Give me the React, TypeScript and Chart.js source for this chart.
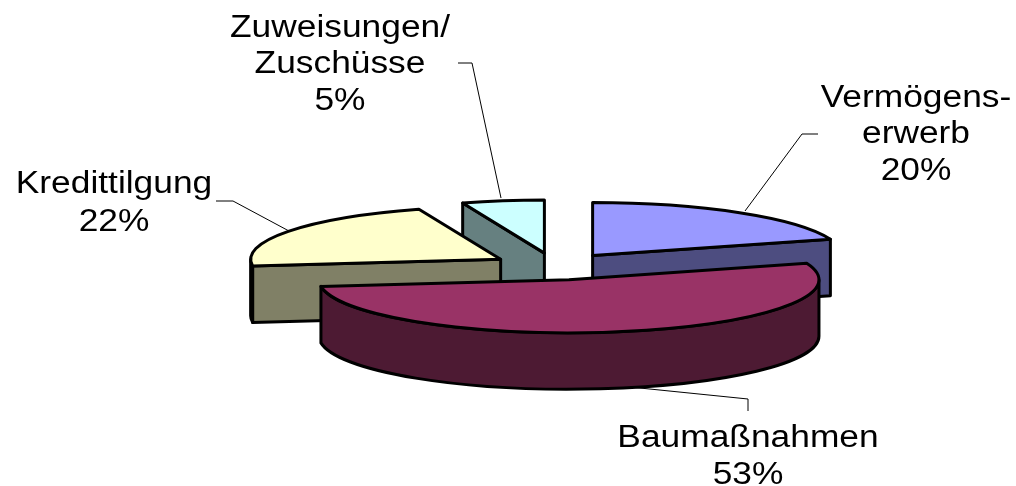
import React, { useEffect, useRef } from "react";
import { Chart, registerables } from "chart.js";

Chart.register(...registerables);

const categories = ["Vermögenserwerb", "Baumaßnahmen", "Kredittilgung", "Zuweisungen/Zuschüsse"];
const shares = [20, 53, 21.7, 5.3];
const topColors = ["#9999FF", "#993366", "#FFFFCC", "#CCFFFF"];
const wallColors = ["#4D4D80", "#4D1A33", "#808066", "#668080"];
const labelLines = [
  ["Vermögens-", "erwerb", "20%"],
  ["Baumaßnahmen", "53%"],
  ["Kredittilgung", "22%"],
  ["Zuweisungen/", "Zuschüsse", "5%"],
];
const labelAnchors = [
  [916, 98, 36.5],
  [748, 438, 37],
  [114, 184, 38],
  [340, 28, 36.5],
];
const leaders = [
  [[745, 211], [802, 134], [818, 134]],
  [[630, 387], [748, 399], [748, 411]],
  [[289, 231], [233, 201], [216, 201]],
  [[501, 198], [472, 63], [458, 63]],
];
const drawOrder = [3, 0, 2, 1];

const SQUASH = 0.212;
const DEPTH = 56.5;
const EXPLODE = 64;
const CENTER_Y = 266.5;
const TEXT_STRETCH = 1.14;

const pie3d = {
  id: "pie3d",
  beforeDatasetDraw(chart: any) {
    const ctx = chart.ctx as CanvasRenderingContext2D;
    const arcs = chart.getDatasetMeta(0).data;
    const place = (el: any) => {
      const mid = (el.startAngle + el.endAngle) / 2;
      return {
        cx: el.x + Math.cos(mid) * EXPLODE,
        cy: CENTER_Y + Math.sin(mid) * EXPLODE * SQUASH,
      };
    };
    drawOrder.forEach((i) => {
      const el = arcs[i];
      const a0 = el.startAngle, a1 = el.endAngle, R = el.outerRadius;
      const { cx, cy } = place(el);
      const ry = R * SQUASH;
      const px = (a: number) => cx + Math.cos(a) * R;
      const py = (a: number) => cy + Math.sin(a) * ry;
      ctx.save();
      ctx.lineWidth = 3;
      ctx.lineJoin = "round";
      ctx.strokeStyle = "#000";
      ctx.fillStyle = wallColors[i];
      const face = (a: number) => {
        ctx.beginPath();
        ctx.moveTo(cx, cy);
        ctx.lineTo(px(a), py(a));
        ctx.lineTo(px(a), py(a) + DEPTH);
        ctx.lineTo(cx, cy + DEPTH);
        ctx.closePath();
        ctx.fill();
        ctx.stroke();
      };
      if (Math.cos(a0) < -1e-6) face(a0);
      if (Math.cos(a1) > 1e-6) face(a1);
      const w0 = Math.max(a0, 0), w1 = Math.min(a1, Math.PI);
      if (w1 > w0) {
        ctx.beginPath();
        ctx.ellipse(cx, cy, R, ry, 0, w0, w1);
        ctx.ellipse(cx, cy + DEPTH, R, ry, 0, w1, w0, true);
        ctx.closePath();
        ctx.fill();
        ctx.stroke();
      }
      ctx.restore();

      // top face: the library's own arc, flattened
      ctx.save();
      ctx.translate(cx, cy);
      ctx.scale(1, SQUASH);
      ctx.translate(-el.x, -el.y);
      el.draw(ctx);
      ctx.restore();

      ctx.save();
      ctx.lineWidth = 3;
      ctx.lineJoin = "round";
      ctx.strokeStyle = "#000";
      ctx.beginPath();
      ctx.moveTo(cx, cy);
      ctx.ellipse(cx, cy, R, ry, 0, a0, a1);
      ctx.closePath();
      ctx.stroke();
      ctx.restore();
    });
    return false;
  },
  afterDraw(chart: any) {
    const ctx = chart.ctx as CanvasRenderingContext2D;
    ctx.save();
    ctx.strokeStyle = "#000";
    ctx.lineWidth = 1;
    leaders.forEach((pts) => {
      ctx.beginPath();
      pts.forEach(([x, y], k) => (k ? ctx.lineTo(x, y) : ctx.moveTo(x, y)));
      ctx.stroke();
    });
    ctx.fillStyle = "#000";
    ctx.font = '31px "Liberation Sans", Arial, sans-serif';
    ctx.textAlign = "center";
    ctx.textBaseline = "middle";
    labelLines.forEach((lines, i) => {
      const [x, y, step] = labelAnchors[i];
      lines.forEach((t, k) => {
        ctx.save();
        ctx.translate(x, y + k * step);
        ctx.scale(TEXT_STRETCH, 1);
        ctx.fillText(t, 0, 0);
        ctx.restore();
      });
    });
    ctx.restore();
  },
};

export default function App() {
  const ref = useRef<HTMLCanvasElement>(null);
  useEffect(() => {
    const chart = new Chart(ref.current!, {
      type: "pie",
      data: {
        labels: categories,
        datasets: [{ data: shares, backgroundColor: topColors, borderWidth: 0 }],
      },
      options: {
        animation: false,
        responsive: false,
        radius: 250,
        layout: { padding: { left: 94 } },
        plugins: { legend: { display: false }, tooltip: { enabled: false } },
      },
      plugins: [pie3d],
    } as any);
    return () => chart.destroy();
  }, []);
  return (
    <div style={{ position: "absolute", left: 0, top: 0, width: 1016, height: 486, background: "#fff" }}>
      <canvas ref={ref} width={1016} height={486} style={{ display: "block" }} />
    </div>
  );
}
